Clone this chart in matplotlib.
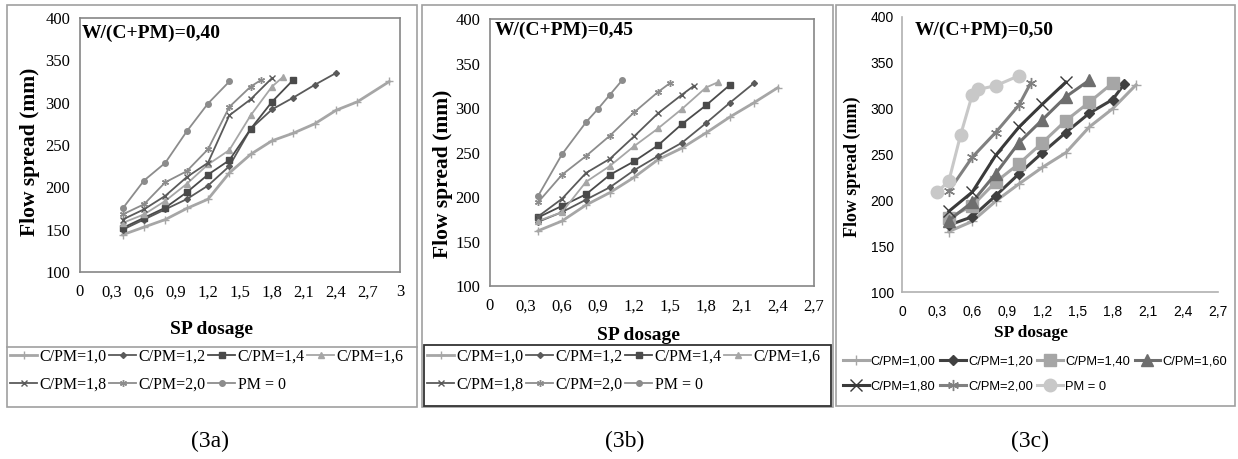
import matplotlib
matplotlib.use("Agg")
import matplotlib.pyplot as plt
from matplotlib.patches import Rectangle
import numpy as np

W, H = 1238, 459

labels_ab = ["C/PM=1,0", "C/PM=1,2", "C/PM=1,4", "C/PM=1,6", "C/PM=1,8", "C/PM=2,0", "PM = 0"]
labels_c = ["C/PM=1,00", "C/PM=1,20", "C/PM=1,40", "C/PM=1,60", "C/PM=1,80", "C/PM=2,00", "PM = 0"]

# (3a) W/(C+PM)=0,40
xa = [
    [0.4, 0.6, 0.8, 1.0, 1.2, 1.4, 1.6, 1.8, 2.0, 2.2, 2.4, 2.6, 2.9],
    [0.4, 0.6, 0.8, 1.0, 1.2, 1.4, 1.6, 1.8, 2.0, 2.2, 2.4],
    [0.4, 0.6, 0.8, 1.0, 1.2, 1.4, 1.6, 1.8, 2.0],
    [0.4, 0.6, 0.8, 1.0, 1.2, 1.4, 1.6, 1.8, 1.9],
    [0.4, 0.6, 0.8, 1.0, 1.2, 1.4, 1.6, 1.8],
    [0.4, 0.6, 0.8, 1.0, 1.2, 1.4, 1.6, 1.7],
    [0.4, 0.6, 0.8, 1.0, 1.2, 1.4],
]
ya = [
    [144, 153, 162, 175, 186, 217, 239, 255, 264, 275, 291, 301, 325],
    [150, 162, 174, 186, 202, 225, 269, 292, 306, 321, 335],
    [152, 164, 176, 194, 215, 232, 269, 301, 327],
    [158, 168, 184, 204, 227, 244, 285, 319, 330],
    [162, 174, 190, 212, 229, 285, 304, 329],
    [168, 180, 206, 219, 245, 295, 319, 327],
    [175, 208, 229, 266, 299, 325],
]

# (3b) W/(C+PM)=0,45
xb = [
    [0.4, 0.6, 0.8, 1.0, 1.2, 1.4, 1.6, 1.8, 2.0, 2.2, 2.4],
    [0.4, 0.6, 0.8, 1.0, 1.2, 1.4, 1.6, 1.8, 2.0, 2.2],
    [0.4, 0.6, 0.8, 1.0, 1.2, 1.4, 1.6, 1.8, 2.0],
    [0.4, 0.6, 0.8, 1.0, 1.2, 1.4, 1.6, 1.8, 1.9],
    [0.4, 0.6, 0.8, 1.0, 1.2, 1.4, 1.6, 1.7],
    [0.4, 0.6, 0.8, 1.0, 1.2, 1.4, 1.5],
    [0.4, 0.6, 0.8, 0.9, 1.0, 1.1],
]
yb = [
    [162, 173, 191, 205, 222, 242, 255, 272, 290, 306, 323],
    [172, 183, 197, 211, 230, 246, 261, 283, 306, 328],
    [177, 190, 203, 225, 240, 258, 282, 303, 326],
    [173, 183, 217, 235, 257, 277, 299, 323, 329],
    [178, 198, 227, 243, 268, 294, 315, 325],
    [194, 225, 246, 269, 295, 318, 328],
    [201, 248, 284, 299, 315, 331],
]

# (3c) W/(C+PM)=0,50
xc = [
    [0.4, 0.6, 0.8, 1.0, 1.2, 1.4, 1.6, 1.8, 2.0],
    [0.4, 0.6, 0.8, 1.0, 1.2, 1.4, 1.6, 1.8, 1.9],
    [0.4, 0.6, 0.8, 1.0, 1.2, 1.4, 1.6, 1.8],
    [0.4, 0.6, 0.8, 1.0, 1.2, 1.4, 1.6],
    [0.4, 0.6, 0.8, 1.0, 1.2, 1.4],
    [0.4, 0.6, 0.8, 1.0, 1.1],
    [0.3, 0.4, 0.5, 0.6, 0.65, 0.8, 1.0],
]
yc = [
    [166, 177, 199, 218, 236, 252, 280, 300, 326],
    [173, 182, 205, 229, 252, 274, 295, 310, 327],
    [181, 194, 220, 240, 263, 287, 307, 328],
    [178, 198, 229, 263, 288, 313, 331],
    [188, 209, 249, 280, 305, 329],
    [210, 247, 274, 304, 328],
    [209, 221, 271, 315, 321, 325, 336],
]

ASTER = (6, 2, 0)
style_ab = [
    dict(color="#a6a6a6", marker="+", ms=6, lw=2.0),
    dict(color="#5a5a5a", marker="D", ms=3, lw=1.3),
    dict(color="#4a4a4a", marker="s", ms=4, lw=1.3),
    dict(color="#a6a6a6", marker="^", ms=4, lw=1.3),
    dict(color="#5a5a5a", marker="x", ms=4, lw=1.3),
    dict(color="#8c8c8c", marker=ASTER, ms=5, lw=1.3),
    dict(color="#8c8c8c", marker="o", ms=4, lw=1.3),
]
style_c = [
    dict(color="#a6a6a6", marker="+", ms=7, lw=2.2),
    dict(color="#404040", marker="D", ms=5, lw=2.2),
    dict(color="#a6a6a6", marker="s", ms=8, lw=2.2),
    dict(color="#6e6e6e", marker="^", ms=8, lw=2.2),
    dict(color="#3a3a3a", marker="x", ms=8, lw=2.2),
    dict(color="#808080", marker=ASTER, ms=8, lw=2.2),
    dict(color="#c8c8c8", marker="o", ms=9, lw=2.2),
]

SERIF = "Liberation Serif"
SANS = "Liberation Sans"

fig = plt.figure(figsize=(W / 100, H / 100), dpi=100)


def rect(x0, y0, x1, y1):
    return [x0 / W, 1 - y1 / H, (x1 - x0) / W, (y1 - y0) / H]


def fx(x):
    return x / W


def fy(y):
    return 1 - y / H


def box(x0, y0, x1, y1, color="#a0a0a0", lw=1.2):
    fig.patches.append(Rectangle((fx(x0), fy(y1)), (x1 - x0) / W, (y1 - y0) / H,
                                 transform=fig.transFigure, fill=False,
                                 edgecolor=color, linewidth=lw))


def hline(x0, x1, y, color="#a0a0a0", lw=1.2):
    fig.add_artist(plt.Line2D([fx(x0), fx(x1)], [fy(y), fy(y)],
                              transform=fig.transFigure, color=color, lw=lw))


def panel(pos, xs, ys, styles, labels, xmax, title, tickfont, full_box,
          title_xy, ylab_xy, xlab_xy, leg_xy, tick_fs, ylab_fs, xlab_fs,
          leg_fs, leg_font, spacing):
    ax = fig.add_axes(rect(*pos))
    handles = []
    for x, y, st, lab in zip(xs, ys, styles, labels):
        h, = ax.plot(x, y, label=lab, mew=1.0, **st)
        handles.append(h)
    ax.set_xlim(0, xmax)
    ax.set_ylim(100, 400)
    ticks = np.arange(0, xmax + 0.01, 0.3)
    ax.set_xticks(ticks)
    ax.set_xticklabels([("%g" % round(t, 1)).replace(".", ",") for t in ticks],
                       fontfamily=tickfont, fontsize=tick_fs)
    ax.set_yticks(range(100, 401, 50))
    ax.set_yticklabels([str(v) for v in range(100, 401, 50)],
                       fontfamily=tickfont, fontsize=tick_fs)
    ax.tick_params(length=0, pad=7 if full_box else 6)
    ax.tick_params(axis="x", pad=9)
    for s in ax.spines.values():
        s.set_color("#868686")
        s.set_linewidth(1.2)
    if not full_box:
        ax.spines["top"].set_visible(False)
        ax.spines["right"].set_visible(False)
        ax.spines["left"].set_color("#b0b0b0")
        ax.spines["bottom"].set_color("#b0b0b0")
    fig.text(fx(title_xy[0]), fy(title_xy[1]), title, fontfamily=SERIF,
             fontweight="bold", fontsize=14, va="center", ha="left")
    fig.text(fx(ylab_xy[0]), fy(ylab_xy[1]), "Flow spread (mm)", fontfamily=SERIF,
             fontweight="bold", fontsize=ylab_fs, rotation=90, va="center", ha="center")
    fig.text(fx(xlab_xy[0]), fy(xlab_xy[1]), "SP dosage", fontfamily=SERIF,
             fontweight="bold", fontsize=xlab_fs, va="center", ha="center")
    order = [0, 4, 1, 5, 2, 6, 3]
    fig.legend([handles[i] for i in order], [labels[i] for i in order],
               loc="upper left", bbox_to_anchor=(fx(leg_xy[0]), fy(leg_xy[1])),
               ncol=4, frameon=False, prop=dict(family=leg_font, size=leg_fs),
               handlelength=spacing[0], handletextpad=0.15, columnspacing=spacing[1],
               labelspacing=spacing[2], borderpad=0, borderaxespad=0)
    return ax


# panel (3a)
box(7, 5, 417, 407)
hline(7, 417, 347)
panel((80, 18, 400, 272), xa, ya, style_ab, labels_ab, 3.0, "W/(C+PM)=0,40",
      SERIF, True, (82, 33), (30, 152), (212, 330), (10, 349),
      12, 15.5, 14, 11.5, SERIF, (1.7, 0.15, 0.75))

# panel (3b)
box(422, 5, 833, 407)
box(424, 345, 831, 406, color="#333333", lw=1.3)
panel((490, 19, 814, 286), xb, yb, style_ab, labels_ab, 2.7, "W/(C+PM)=0,45",
      SERIF, True, (495, 30), (443, 174), (638, 335), (427, 349),
      12, 15.5, 14, 11.5, SERIF, (1.7, 0.15, 0.75))

# panel (3c)
box(836, 5, 1235, 406)
panel((902, 17, 1218, 292), xc, yc, style_c, labels_c, 2.7, "W/(C+PM)=0,50",
      SANS, False, (915, 30), (852, 167), (1031, 333), (843, 355),
      10, 13, 12.5, 9.3, SANS, (2.0, 0.35, 1.05))

for x, t in [(210, "(3a)"), (625, "(3b)"), (1030, "(3c)")]:
    fig.text(fx(x), fy(441), t, fontfamily=SERIF, fontsize=17, ha="center", va="center")

fig.savefig("out.png", dpi=100)
